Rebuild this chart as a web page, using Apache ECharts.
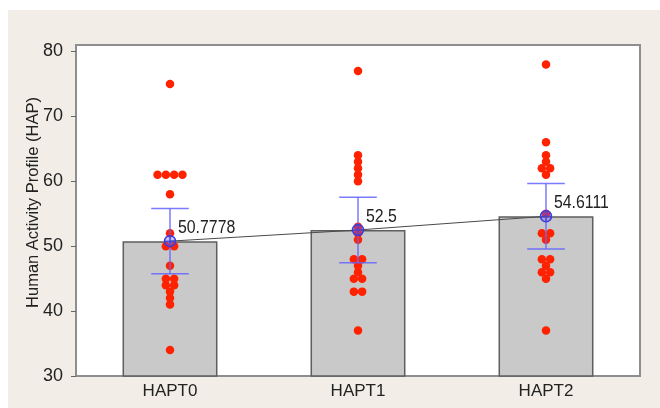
<!DOCTYPE html>
<html>
<head>
<meta charset="utf-8">
<script src="https://cdn.jsdelivr.net/npm/echarts@6/dist/echarts.min.js"></script>
<style>
  html, body { margin: 0; padding: 0; background: #ffffff; }
  #chart { width: 660px; height: 408px; }
</style>
</head>
<body>
<div id="chart"></div>
<script>
// ---- data ----
const categories = ['HAPT0', 'HAPT1', 'HAPT2'];
const means = [50.7778, 52.5, 54.6111];
const ciLow = [45.75, 47.45, 49.58];
const ciHigh = [55.8, 57.55, 59.65];
const hapt0 = [75, 61, 61, 61, 61, 58, 52, 50, 50, 47, 45, 45, 44, 44, 43, 42, 41, 34];
const hapt1 = [77, 64, 63, 62, 61, 60, 53, 52, 51, 48, 48, 47, 46, 45, 45, 43, 43, 37];
const hapt2 = [78, 66, 64, 63, 62, 62, 61, 55, 52, 52, 51, 48, 48, 47, 46, 46, 45, 37];
const yTicks = [30, 40, 50, 60, 70, 80];
const yName = 'Human Activity Profile (HAP)';

// ---- build ----
const FONT = '"Liberation Sans", Arial, sans-serif';
const DOT_SPACING = 8.3;
const groups = [hapt0, hapt1, hapt2];
const dotData = [];
groups.forEach((vals, g) => {
  const counts = {};
  vals.forEach(v => { counts[v] = (counts[v] || 0) + 1; });
  const seen = {};
  vals.forEach(v => {
    const n = counts[v];
    const k = seen[v] = (seen[v] === undefined ? 0 : seen[v] + 1);
    dotData.push({ value: [g, v], symbolOffset: [(k - (n - 1) / 2) * DOT_SPACING, 0] });
  });
});

const chart = echarts.init(document.getElementById('chart'), null, { renderer: 'canvas' });
chart.setOption({
  animation: false,
  backgroundColor: '#ffffff',
  graphic: [{
    type: 'rect', z: -10, silent: true,
    shape: { x: 8, y: 10, width: 652, height: 398 },
    style: { fill: '#f2eee7' }
  }],
  grid: {
    left: 76, right: 20, top: 45, bottom: 32,
    show: true, backgroundColor: '#ffffff', borderColor: '#8e8e8e', borderWidth: 2
  },
  xAxis: {
    type: 'category',
    data: categories,
    axisLine: { lineStyle: { color: '#8e8e8e', width: 2 } },
    axisTick: { alignWithLabel: true, length: 5, lineStyle: { color: '#666' } },
    axisLabel: { color: '#222', fontSize: 17, fontFamily: FONT, margin: 7 }
  },
  yAxis: {
    type: 'value', min: 30, max: 81,
    name: yName, nameLocation: 'middle', nameGap: 34, nameMoveOverlap: false,
    nameTextStyle: { color: '#222', fontSize: 16.5, fontFamily: FONT, padding: [0, 0, 0, 16] },
    splitLine: { show: false },
    axisLine: { show: true, lineStyle: { color: '#8e8e8e', width: 2 } },
    axisTick: { show: true, length: 5, customValues: yTicks, lineStyle: { color: '#666' } },
    axisLabel: { color: '#222', fontSize: 18, fontFamily: FONT, margin: 13, customValues: yTicks }
  },
  series: [
    {
      type: 'bar', data: means, barWidth: '50.5%', z: 1,
      itemStyle: { color: '#c9c9c9', borderColor: '#5e5e5e', borderWidth: 1.5 }
    },
    {
      type: 'line', data: means, symbol: 'none', z: 3,
      lineStyle: { color: '#4a4a4a', width: 1 }
    },
    {
      type: 'scatter', data: dotData, symbol: 'circle', symbolSize: 8.5, z: 4,
      itemStyle: { color: '#ff2200', opacity: 1 }
    },
    {
      type: 'custom', z: 5,
      data: categories.map((c, i) => [i, ciLow[i], ciHigh[i], means[i]]),
      renderItem: function (params, api) {
        const i = api.value(0);
        const lo = api.coord([i, api.value(1)]);
        const hi = api.coord([i, api.value(2)]);
        const m = api.coord([i, api.value(3)]);
        const hw = api.size([1, 0])[0] * 0.1;
        const blue = 'rgba(100,100,255,0.85)';
        return {
          type: 'group',
          children: [
            { type: 'line', shape: { x1: lo[0], y1: lo[1], x2: hi[0], y2: hi[1] }, style: { stroke: blue, lineWidth: 1.5 } },
            { type: 'line', shape: { x1: lo[0] - hw, y1: lo[1], x2: lo[0] + hw, y2: lo[1] }, style: { stroke: blue, lineWidth: 1.5 } },
            { type: 'line', shape: { x1: hi[0] - hw, y1: hi[1], x2: hi[0] + hw, y2: hi[1] }, style: { stroke: blue, lineWidth: 1.5 } },
            { type: 'circle', shape: { cx: m[0], cy: m[1], r: 5.5 }, style: { fill: 'rgba(90,90,255,0.35)', stroke: '#3c3cdc', lineWidth: 1.5 } },
            { type: 'line', shape: { x1: m[0] - 5.5, y1: m[1], x2: m[0] + 5.5, y2: m[1] }, style: { stroke: '#3c3cdc', lineWidth: 1 } },
            { type: 'line', shape: { x1: m[0], y1: m[1] - 5.5, x2: m[0], y2: m[1] + 5.5 }, style: { stroke: '#3c3cdc', lineWidth: 1 } },
            { type: 'text', x: m[0] + 8, y: m[1] - 13, scaleX: 0.88,
              style: { text: String(api.value(3)), fill: '#222', font: '18px ' + FONT, verticalAlign: 'middle', align: 'left' } }
          ]
        };
      }
    }
  ]
});
</script>
</body>
</html>
